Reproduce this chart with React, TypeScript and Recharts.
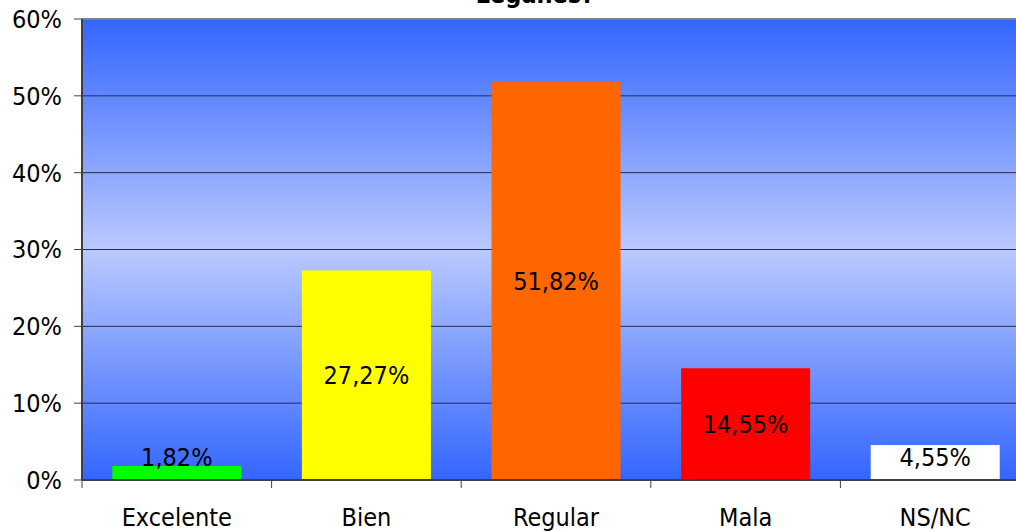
import React from "react";
import { BarChart, Bar, XAxis, YAxis, CartesianGrid, ReferenceLine, LabelList, Cell } from "recharts";

const categories = ["Excelente", "Bien", "Regular", "Mala", "NS/NC"];
const values = [1.82, 27.27, 51.82, 14.55, 4.55];
const barColors = ["#00ff00", "#ffff00", "#ff6600", "#ff0000", "#ffffff"];
const yTicks = [0, 10, 20, 30, 40, 50, 60];
const title = "Leganés?";

const data = categories.map((name, i) => ({ name, value: values[i] }));

const FONT = "Tahoma, 'DejaVu Sans Condensed', 'Liberation Sans', sans-serif";

const fmt = (v: number) => v.toFixed(2).replace(".", ",") + "%";

function XTick(props: any) {
  const { x, y, payload } = props;
  const half = payload && payload.offset ? payload.offset : 94.8;
  return (
    <g>
      <line x1={x - half} x2={x - half} y1={y - 8} y2={y} stroke="#404040" strokeWidth={1} />
      <text x={x} y={y + 38} textAnchor="middle" fontSize={25} fontFamily={FONT} fill="#000">
        {payload.value}
      </text>
    </g>
  );
}

function BarLabel(props: any) {
  const { x, y, width, height, value } = props;
  const bottom = y + height;
  const cy = Math.min(y + height / 2, bottom - 23);
  return (
    <text x={x + width / 2} y={cy} dy="0.36em" textAnchor="middle" fontSize={25} fontFamily={FONT} fill="#000">
      {fmt(value)}
    </text>
  );
}

export default function App() {
  return (
    <div style={{ position: "absolute", left: 0, top: 0, width: 1016, height: 531, overflow: "hidden", background: "#fff" }}>
      <svg width={1016} height={30} style={{ position: "absolute", left: 0, top: 0, zIndex: 2 }}>
        <text x={535} y={3} textAnchor="middle" fontSize={25} fontWeight="bold" fontFamily={FONT} fill="#000">
          {title}
        </text>
      </svg>
      <BarChart
        width={1040}
        height={531}
        data={data}
        margin={{ top: 19, right: 10, left: 0, bottom: 0 }}
        barCategoryGap="16%"
      >
        <defs>
          <linearGradient id="bg" x1="0" y1="0" x2="0" y2="1">
            <stop offset="0%" stopColor="#3366ff" />
            <stop offset="50%" stopColor="#bbc9ff" />
            <stop offset="100%" stopColor="#3366ff" />
          </linearGradient>
        </defs>
        <CartesianGrid vertical={false} fill="url(#bg)" stroke="#2a2d45" strokeWidth={1} />
        <XAxis
          dataKey="name"
          height={51}
          tickLine={false}
          tickSize={8}
          tickMargin={0}
          axisLine={{ stroke: "#404040", strokeWidth: 2 }}
          tick={<XTick />}
          interval={0}
        />
        <YAxis
          width={82}
          domain={[0, 60]}
          ticks={yTicks}
          interval={0}
          tickFormatter={(v: number) => `${v}%`}
          tickSize={8}
          tickMargin={12}
          tickLine={{ stroke: "#404040" }}
          axisLine={{ stroke: "#404040", strokeWidth: 2 }}
          tick={{ fontSize: 25, fontFamily: FONT, fill: "#000" }}
        />
        <ReferenceLine y={60} stroke="#808080" strokeWidth={2} />
        <Bar dataKey="value" isAnimationActive={false}>
          {data.map((d, i) => (
            <Cell key={d.name} fill={barColors[i]} />
          ))}
          <LabelList dataKey="value" content={<BarLabel />} />
        </Bar>
      </BarChart>
    </div>
  );
}
